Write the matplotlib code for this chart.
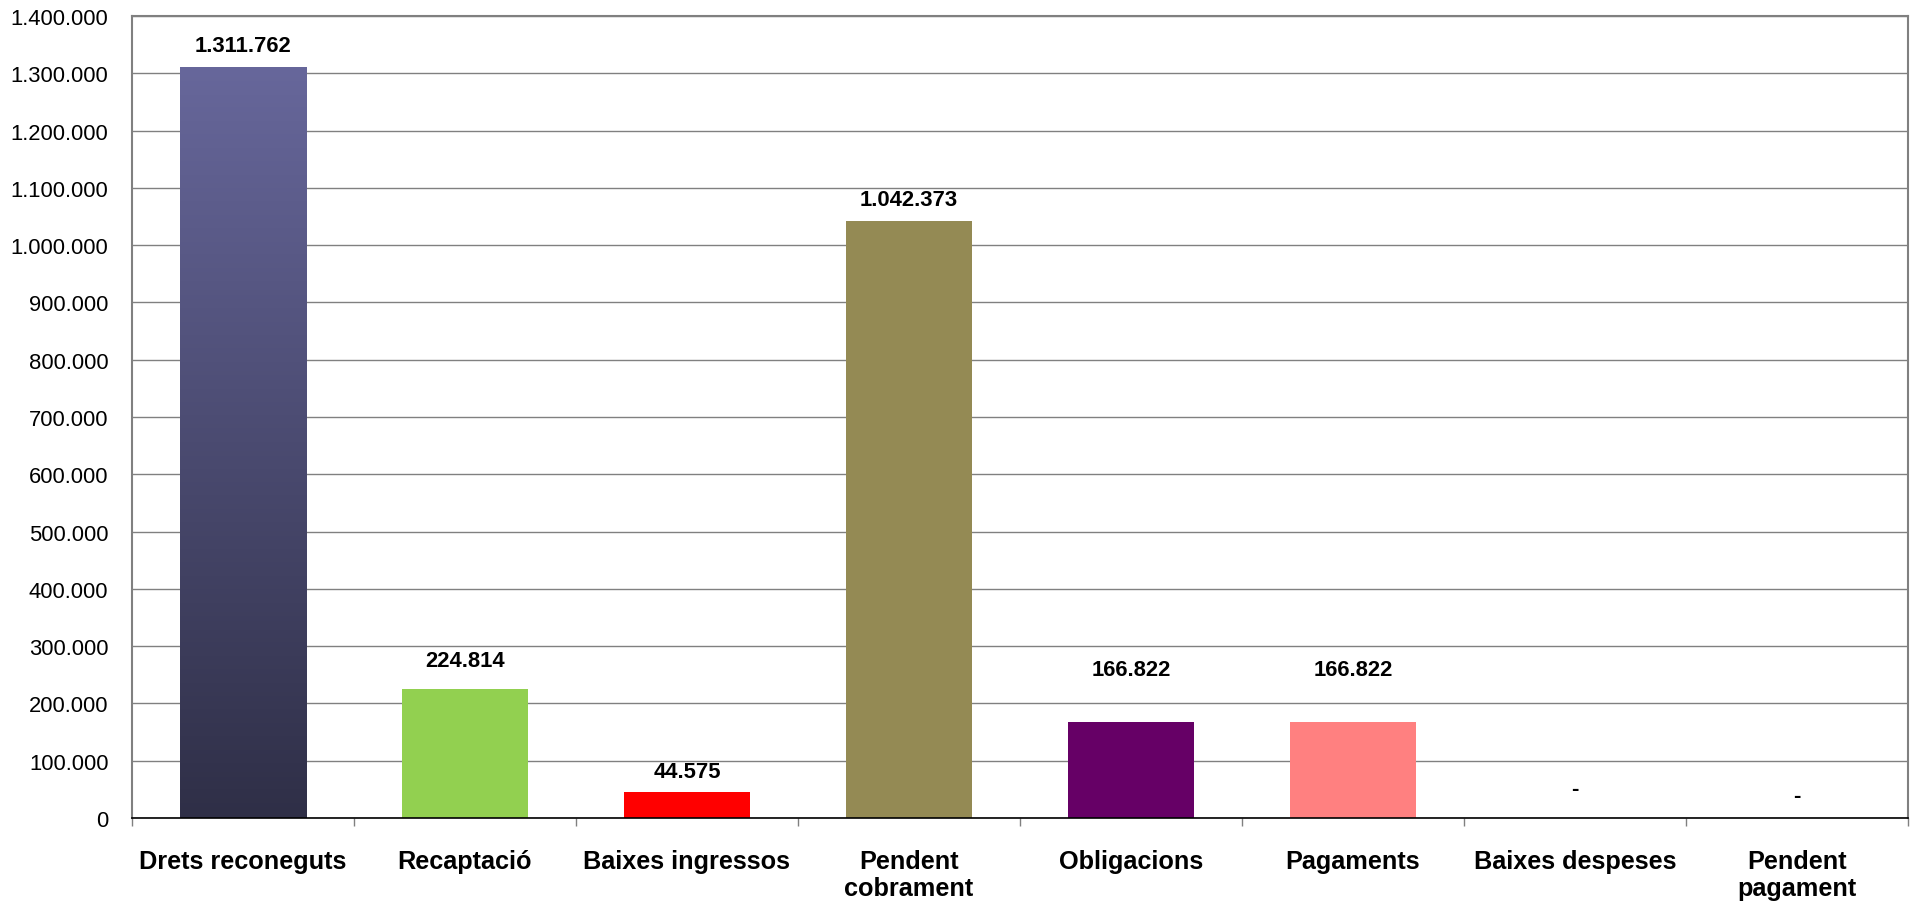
import numpy as np
import matplotlib
matplotlib.use("Agg")
import matplotlib.pyplot as plt
from matplotlib.colors import LinearSegmentedColormap
from matplotlib.ticker import FuncFormatter

categories = ["Drets reconeguts", "Recaptació", "Baixes ingressos", "Pendent\ncobrament",
              "Obligacions", "Pagaments", "Baixes despeses", "Pendent\npagament"]
values = [1311762, 224814, 44575, 1042373, 166822, 166822, 0, 0]
colors = ["#666699", "#92D050", "#FF0000", "#948A54", "#660066", "#FF8080", "#FFFFFF", "#FFFFFF"]
# label gap above bar top, in points (as in reference)
label_gaps = [11.5, 16.5, 11, 11.5, 34.5, 34.5, 17, 12]
yticks = list(range(0, 1400001, 100000))

plt.rcParams['font.family'] = ['Liberation Sans', 'DejaVu Sans']

fig = plt.figure(figsize=(19.15, 9.04), dpi=100)
ax = fig.add_axes([132/1915, 1-819/904, (1908-132)/1915, (819-17)/904])

x = np.arange(len(categories))
bw = 0.57
bars = ax.bar(x, values, width=bw, color=colors, zorder=2, linewidth=0)

# gradient on first bar
grad_cmap = LinearSegmentedColormap.from_list("g", ["#2F2F47", "#67679B"])
b0 = bars[0]
gx0, gy0 = b0.get_x(), b0.get_y()
grad = np.linspace(0, 1, 256).reshape(-1, 1)
im = ax.imshow(grad, cmap=grad_cmap, origin='lower', aspect='auto',
               extent=[gx0, gx0 + b0.get_width(), gy0, gy0 + b0.get_height()], zorder=2.5)
im.set_clip_path(b0)

for xi, v, g in zip(x, values, label_gaps):
    txt = f"{v:,}".replace(",", ".") if v != 0 else "-"
    ax.annotate(txt, (xi, v), xytext=(0, g), textcoords='offset points',
                ha='center', va='baseline', fontsize=15.8, fontweight='bold', color='black')

ax.set_xlim(-0.5, len(categories) - 0.5)
ax.set_ylim(0, 1400000)
ax.set_yticks(yticks)
ax.yaxis.set_major_formatter(FuncFormatter(lambda v, p: f"{int(v):,}".replace(",", ".")))
ax.tick_params(axis='y', length=0, pad=17, labelsize=15.8)

ax.set_xticks(x)
ax.set_xticklabels(categories, fontsize=18.2, fontweight='bold', linespacing=1.2)
ax.set_xticks(np.arange(-0.5, len(categories), 1.0), minor=True)
ax.tick_params(axis='x', which='major', length=0, pad=22)
ax.tick_params(axis='x', which='minor', length=6, width=1, color='#808080', direction='out')

ax.grid(axis='y', color='#808080', linewidth=1.0, zorder=0)
ax.set_axisbelow(True)

for s in ['top', 'right', 'left']:
    ax.spines[s].set_color('#808080')
    ax.spines[s].set_linewidth(1.5)
ax.spines['bottom'].set_color('black')
ax.spines['bottom'].set_linewidth(1.2)

fig.savefig("out.png", dpi=100, facecolor='white')
